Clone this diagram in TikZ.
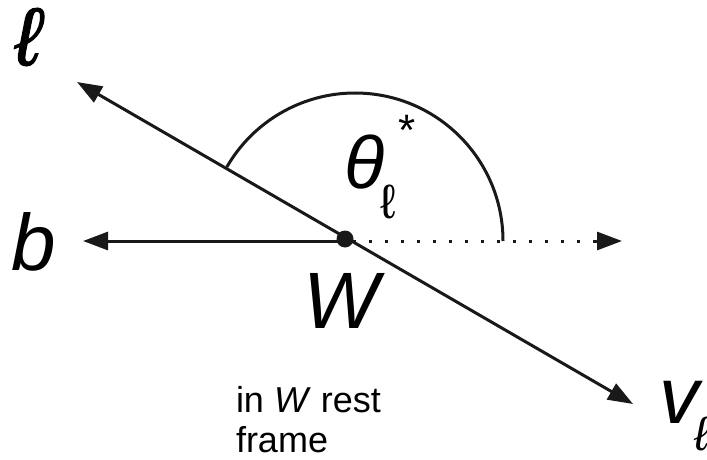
\documentclass[tikz,border=0pt]{standalone}
\usepackage{fontspec}
\setmainfont{Liberation Sans}
\usetikzlibrary{arrows.meta}
\begin{document}
\begin{tikzpicture}[x=1pt,y=1pt,
  ln/.style={line width=3pt,draw=black!90},
  tip/.style={-{Triangle[length=25pt,width=18pt]}},
  lbl/.style={inner sep=0pt,outer sep=0pt},
  big/.style={lbl,font=\fontsize{80}{96}\selectfont\itshape}]
\useasboundingbox (0,0) rectangle (707,459);
\coordinate (W) at (345,218);
\coordinate (btip) at (83,218);
\coordinate (dtip) at (622,218);
\coordinate (ltip) at (77,377);
\coordinate (vtip) at (633,55);
\coordinate (arcstart) at (503,218);
% arc
\draw[ln] (arcstart) arc[start angle=0,end angle=150,radius=148];
% dotted
\draw[line width=3pt,draw=black!90,dash pattern=on 3pt off 13pt,dash phase=-8pt] (W) -- ++(250,0) coordinate (dend);
\draw[ln,tip] (dend) -- (dtip);
% b arrow
\draw[ln,tip] (W) -- (btip);
% diagonal
\draw[ln,{Triangle[length=25pt,width=18pt]}-{Triangle[length=25pt,width=18pt]}] (ltip) -- (vtip);
\fill[black!90] (345,220) circle[radius=8.5pt];
% labels
\node[lbl,font=\fontsize{82}{90}\selectfont\itshape,text=black] (ell) at (28,422) {\addfontfeature{FakeBold=1.2}ℓ};
\node[big,anchor=base] (b) at (34,189) {b};
\node[big,anchor=base] (Wl) at (341,131) {W};
\node[lbl,font=\fontsize{74}{90}\selectfont\itshape,anchor=base] (theta) at (365,271) {θ};
\node[lbl,font=\fontsize{48}{60}\selectfont,anchor=base] (thsub) at (388,241) {ℓ};
\node[lbl,font=\fontsize{44}{60}\selectfont] (star) at (407,329) {*};
\node[big,anchor=base] (v) at (679,36) {v};
\node[lbl,font=\fontsize{48}{60}\selectfont\itshape,anchor=base west] (vsub) at (694,9) {ℓ};
\node[lbl,font=\fontsize{36}{40}\selectfont,align=left,anchor=base west] (txt) at (236,7) {in \textit{W} rest\\frame};
\end{tikzpicture}
\end{document}
